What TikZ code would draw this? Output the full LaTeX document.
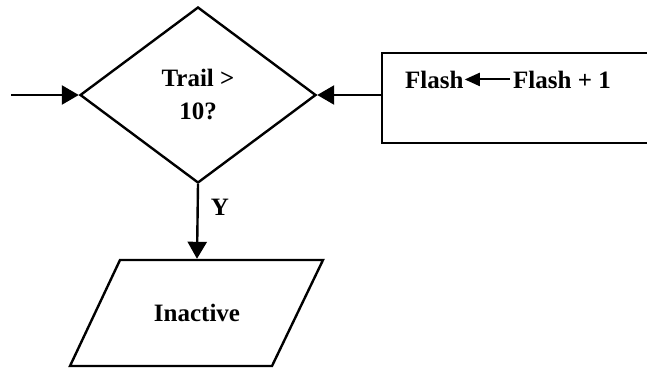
\documentclass[tikz,border=0pt]{standalone}
\usepackage{fontspec}
\setmainfont{Liberation Serif}
\usetikzlibrary{arrows.meta,shapes.geometric}
\tikzset{
  lbl/.style={font=\fontsize{25}{33}\selectfont\bfseries, inner sep=0pt, align=center},
  shp/.style={draw, line width=2.4pt, inner sep=0pt},
  flow/.style={line width=2.4pt, -{Triangle[length=17pt,width=19pt]}},
  small/.style={line width=2pt, -{Triangle[length=15pt,width=13pt]}, shorten >=1pt, shorten <=3pt}
}
\begin{document}
\begin{tikzpicture}[x=1pt,y=-1pt]
\clip (0,0) rectangle (647,370);
\fill[white] (0,0) rectangle (647,370);
% decision
\node[shp, diamond, minimum width=236pt, minimum height=176pt, lbl] (d) at (198,95) {Trail >\\10?};
% process box (cut off at right)
\node[shp, rectangle, minimum width=290pt, minimum height=90pt, anchor=north west] (r) at (381,52) {};
\node[lbl, anchor=base west] (f1) at (405,88) {Flash};
\node[lbl, anchor=base west] (f2) at (513,88) {Flash + 1};
\draw[small] (f2.west) -- (f1.east);
% output (parallelogram)
\coordinate (otl) at (120,260);
\coordinate (otr) at (323,260);
\coordinate (obr) at (272,366);
\coordinate (obl) at (70,366);
\draw[line width=2.4pt, line join=miter] (otl) -- (otr) -- (obr) -- (obl) -- cycle;
\coordinate (otop) at (197,258.8);
\node[lbl] (o) at (197,313) {Inactive};
\coordinate (in) at (11,95);
\draw[flow] (in) -- (d.west);
\draw[flow] (d.east -| r.west) -- (d.east);
\draw[flow] (d.south) -- (otop);
\node[lbl] (y) at (220,207) {Y};
\end{tikzpicture}
\end{document}
